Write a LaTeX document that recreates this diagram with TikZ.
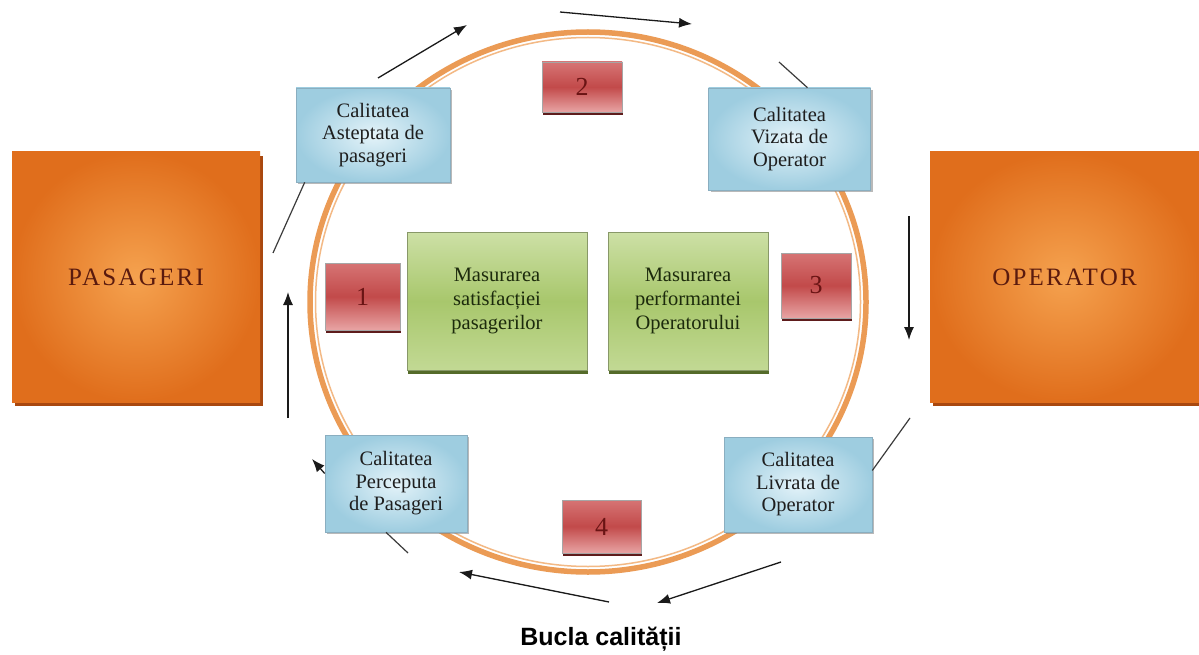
\documentclass[tikz,border=0pt]{standalone}
\usepackage{fontspec}
\setmainfont{Liberation Serif}
\newfontfamily\titlefont{Liberation Sans}
\newfontfamily\bigfont[LetterSpace=9]{Liberation Serif}
\usetikzlibrary{shadows,arrows.meta}
\definecolor{bluein}{HTML}{E4F3F9}
\definecolor{blueout}{HTML}{9ECDE0}
\definecolor{blueedge}{HTML}{8AAEC0}
\definecolor{bluetext}{HTML}{1E1E1E}
\definecolor{redtop}{HTML}{D67474}
\definecolor{redmid}{HTML}{C24A4A}
\definecolor{redbot}{HTML}{E8A4A4}
\definecolor{redshadow}{HTML}{5E1C1C}
\definecolor{rednum}{HTML}{6A1414}
\definecolor{greentop}{HTML}{CDE0A6}
\definecolor{greenmid}{HTML}{A8C76C}
\definecolor{greenbot}{HTML}{C2D994}
\definecolor{greenshadow}{HTML}{556B2A}
\definecolor{greentext}{HTML}{1C2A0C}
\definecolor{orin}{HTML}{F5A24F}
\definecolor{orout}{HTML}{E06E1C}
\definecolor{orshadow}{HTML}{A9480F}
\definecolor{ortext}{HTML}{5A1A0E}
\definecolor{ringc}{HTML}{EB9B55}
\definecolor{ringlight}{HTML}{F3B985}
\definecolor{arrowc}{HTML}{1A1A1A}
\begin{document}
\begin{tikzpicture}[x=1pt,y=-1pt,
  bluebox/.style={rectangle, draw=blueedge, line width=0.6pt, inner color=bluein, outer color=blueout,
    drop shadow={shadow xshift=2pt, shadow yshift=-2pt, fill=black!50, opacity=0.55},
    align=center, font=\fontsize{20.5}{22.5}\selectfont, text=bluetext, inner sep=0pt},
  numbox/.style={rectangle, draw=black!35, line width=0.5pt, top color=redtop, bottom color=redbot, middle color=redmid,
    drop shadow={shadow xshift=0.5pt, shadow yshift=-3pt, fill=redshadow, opacity=1},
    font=\fontsize{26}{26}\selectfont, text=rednum, inner sep=0pt},
  greenbox/.style={rectangle, draw=greenbot!70!black, line width=0.4pt, top color=greentop, bottom color=greenbot, middle color=greenmid,
    drop shadow={shadow xshift=1pt, shadow yshift=-4pt, fill=greenshadow, opacity=1},
    align=center, font=\fontsize{20.5}{24}\selectfont, text=greentext, inner sep=0pt},
  orbox/.style={rectangle, inner color=orin, outer color=orout,
    drop shadow={shadow xshift=3pt, shadow yshift=-4pt, fill=orshadow, opacity=1},
    font=\bigfont\fontsize{25}{25}\selectfont, text=ortext, inner sep=0pt},
  flow/.style={draw=arrowc, line width=1.3pt, -{Latex[length=13pt,width=10pt]}},
  tick/.style={draw=arrowc!85, line width=1.2pt}]
\useasboundingbox (0,0) rectangle (1199,655);
\fill[white] (0,0) rectangle (1199,655);
% ring
\draw[ringc, line width=5.5pt] (588,302) ellipse [x radius=278pt, y radius=270pt];
\draw[ringlight, line width=1.5pt] (588,302) ellipse [x radius=272.5pt, y radius=264.5pt];
% big boxes
\node[orbox, minimum width=248pt, minimum height=250pt] (pas) at (136,277) {PASAGERI};
\node[orbox, minimum width=269pt, minimum height=250pt] (op) at (1064.5,277) {OPERATOR};
% blue boxes
\node[bluebox, minimum width=154pt, minimum height=94pt] (A) at (373,135) {Calitatea\\Asteptata de\\pasageri};
\node[bluebox, minimum width=162pt, minimum height=102pt] (V) at (789.5,139) {Calitatea\\Vizata de\\Operator};
\node[bluebox, minimum width=142pt, minimum height=97pt] (P) at (396,483.5) {Calitatea\\Perceputa\\de Pasageri};
\node[bluebox, minimum width=148pt, minimum height=95pt] (L) at (798,484.5) {Calitatea\\Livrata de\\Operator};
% green boxes
\node[greenbox, minimum width=180pt, minimum height=138pt] (gL) at (497,301) {Masurarea\\satisfacției\\pasagerilor};
\node[greenbox, minimum width=160pt, minimum height=138pt] (gR) at (688,301) {Masurarea\\performantei\\Operatorului};
% number boxes
\node[numbox, minimum width=75pt, minimum height=67pt] (n1) at (362.5,296.5) {1};
\node[numbox, minimum width=80pt, minimum height=50pt] (n2) at (582,87) {2};
\node[numbox, minimum width=70pt, minimum height=65pt] (n3) at (816,285.5) {3};
\node[numbox, minimum width=79pt, minimum height=53pt] (n4) at (601.5,526.5) {4};
% free ends
\coordinate (a1s) at (378,78);  \coordinate (a1e) at (467,25);
\coordinate (a2s) at (560,12);  \coordinate (a2e) at (692,24);
\coordinate (tV) at (779,62);
\coordinate (a3s) at (909,216); \coordinate (a3e) at (909,340);
\coordinate (tL) at (910,418);
\coordinate (a4s) at (781,562); \coordinate (a4e) at (657,603);
\coordinate (a5s) at (609,602); \coordinate (a5e) at (459,572);
\coordinate (tP) at (408,553);
\coordinate (a6e) at (312,459);
\coordinate (a7s) at (288,418); \coordinate (a7e) at (288,292);
\coordinate (tA) at (273,253);
% connectors
\draw[tick] ([xshift=9pt]A.south west) -- (tA);
\draw[flow] (a1s) -- (a1e);
\draw[flow] (a2s) -- (a2e);
\draw[tick] ([xshift=18pt]V.north) -- (tV);
\draw[flow] (a3s) -- (a3e);
\draw[tick] ([yshift=14pt]L.east) -- (tL);
\draw[flow] (a4s) -- (a4e);
\draw[flow] (a5s) -- (a5e);
\draw[tick] ([xshift=-10pt]P.south) -- (tP);
\draw[flow] ([yshift=10pt]P.west) -- (a6e);
\draw[flow] (a7s) -- (a7e);
% title
\node[font=\titlefont\bfseries\fontsize{25}{25}\selectfont, anchor=base] (title) at (601,645) {Bucla calității};
\end{tikzpicture}
\end{document}
